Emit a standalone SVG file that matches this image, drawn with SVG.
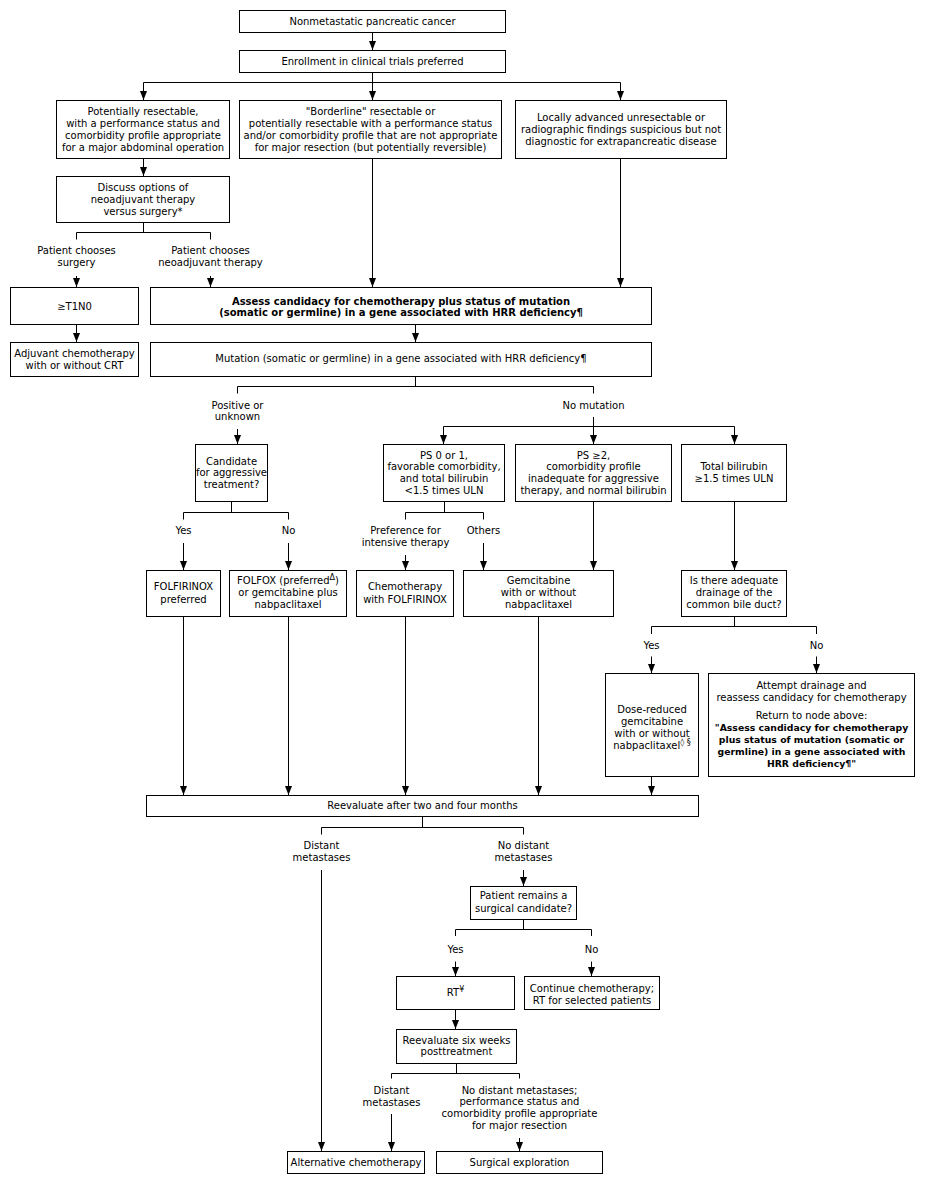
<svg xmlns="http://www.w3.org/2000/svg" width="935" height="1184" viewBox="0 0 935 1184">
<defs>
<style>
.box{fill:#fff;stroke:#000;stroke-width:1}
.c{fill:none;stroke:#000;stroke-width:1}
.a{fill:none;stroke:#000;stroke-width:1;marker-end:url(#ah)}
text{font-family:"DejaVu Sans",Verdana,sans-serif;font-size:10px;text-anchor:middle;fill:#000}
.b{font-weight:bold}
.bs{font-weight:bold;font-size:9.3px}
.sup{font-size:8px}
</style>
<marker id="ah" markerUnits="userSpaceOnUse" markerWidth="9" markerHeight="7" refX="9" refY="3.5" orient="auto">
<path d="M0,0 L9,3.5 L0,7 z" fill="#000"/>
</marker>
</defs>
<rect width="935" height="1184" fill="#fff"/>
<g id="connectors">
<path class="a" d="M372.5,32.5 V50"/>
<path class="c" d="M372.5,72.5 V82.5 M143.5,82.5 H620.5"/>
<path class="a" d="M143.5,82.5 V100"/>
<path class="a" d="M372.5,82.5 V100"/>
<path class="a" d="M620.5,82.5 V100"/>
<path class="a" d="M143.5,158.5 V176"/>
<path class="c" d="M143.5,222.5 V232.5 M76.5,239.5 V232.5 H210.5 V239.5"/>
<path class="a" d="M76.5,276 V287"/>
<path class="a" d="M210.5,276 V287"/>
<path class="a" d="M76.5,324.5 V342"/>
<path class="a" d="M372.5,158.5 V287"/>
<path class="a" d="M620.5,158.5 V287"/>
<path class="a" d="M415.5,324.5 V342"/>
<path class="c" d="M415.5,376.5 V386.5 M237.5,393.5 V386.5 H593.5 V393.5"/>
<path class="a" d="M237.5,429 V444"/>
<path class="c" d="M443.5,426.5 H734.5"/>
<path class="a" d="M593.5,417 V444"/>
<path class="a" d="M443.5,426.5 V444"/>
<path class="a" d="M734.5,426.5 V444"/>
<path class="c" d="M231.5,501.5 V512.5 M183.5,519.5 V512.5 H288.5 V519.5"/>
<path class="a" d="M183.5,543 V570"/>
<path class="a" d="M288.5,543 V570"/>
<path class="c" d="M444.5,501.5 V512.5 M405.5,519.5 V512.5 H483.5 V519.5"/>
<path class="a" d="M405.5,555 V570"/>
<path class="a" d="M483.5,543 V570"/>
<path class="a" d="M593.5,501.5 V570"/>
<path class="a" d="M734.5,501.5 V570"/>
<path class="c" d="M734.5,616.5 V626.5 M651.5,634 V626.5 H816.5 V634"/>
<path class="a" d="M651.5,656.5 V673"/>
<path class="a" d="M816.5,656.5 V673"/>
<path class="a" d="M183.5,616.5 V795"/>
<path class="a" d="M288.5,616.5 V795"/>
<path class="a" d="M405.5,616.5 V795"/>
<path class="a" d="M538.5,616.5 V795"/>
<path class="a" d="M651.5,776.5 V795"/>
<path class="c" d="M422.5,816.5 V827.5 M321.5,834.5 V827.5 H523.5 V834.5"/>
<path class="a" d="M321.5,870 V1151"/>
<path class="a" d="M523.5,870 V886"/>
<path class="c" d="M523.5,919.5 V929.5 M455.5,936 V929.5 H591.5 V936"/>
<path class="a" d="M455.5,961.5 V976"/>
<path class="a" d="M591.5,961.5 V976"/>
<path class="a" d="M455.5,1009.5 V1029"/>
<path class="c" d="M456.5,1063.5 V1073.5 M391.5,1078.5 V1073.5 H519.5 V1078.5"/>
<path class="a" d="M391.5,1114 V1151"/>
<path class="a" d="M519.5,1138 V1151"/>
</g>
<g id="labels">
<text x="76.5" y="254">Patient chooses</text>
<text x="76.5" y="266">surgery</text>
<text x="210.5" y="254">Patient chooses</text>
<text x="210.5" y="266">neoadjuvant therapy</text>
<text x="237.5" y="408.5">Positive or</text>
<text x="237.5" y="420">unknown</text>
<text x="593.5" y="408.5">No mutation</text>
<text x="183.5" y="534">Yes</text>
<text x="288.5" y="534">No</text>
<text x="405.5" y="534">Preference for</text>
<text x="405.5" y="546">intensive therapy</text>
<text x="483.5" y="534">Others</text>
<text x="651.5" y="649">Yes</text>
<text x="816.5" y="649">No</text>
<text x="321.5" y="849">Distant</text>
<text x="321.5" y="861">metastases</text>
<text x="523.5" y="849">No distant</text>
<text x="523.5" y="861">metastases</text>
<text x="455.5" y="952.5">Yes</text>
<text x="591.5" y="952.5">No</text>
<text x="391.5" y="1093.5">Distant</text>
<text x="391.5" y="1105.5">metastases</text>
<text x="519.5" y="1093.5">No distant metastases;</text>
<text x="519.5" y="1105.2">performance status and</text>
<text x="519.5" y="1116.9">comorbidity profile appropriate</text>
<text x="519.5" y="1128.6">for major resection</text>
</g>
<g id="n1"><rect class="box" x="239.5" y="10.5" width="266" height="22"/><text x="372.5" y="25">Nonmetastatic pancreatic cancer</text></g>
<g id="n2"><rect class="box" x="239.5" y="50.5" width="266" height="22"/><text x="372.5" y="65">Enrollment in clinical trials preferred</text></g>
<g id="n3"><rect class="box" x="56.5" y="100.5" width="173" height="58"/>
<text x="143" y="114.5">Potentially resectable,</text>
<text x="143" y="126.5">with a performance status and</text>
<text x="143" y="138.5">comorbidity profile appropriate</text>
<text x="143" y="150.5">for a major abdominal operation</text></g>
<g id="n4"><rect class="box" x="239.5" y="100.5" width="262" height="58"/>
<text x="370.5" y="114.5">"Borderline" resectable or</text>
<text x="370.5" y="126.5">potentially resectable with a performance status</text>
<text x="370.5" y="138.5">and/or comorbidity profile that are not appropriate</text>
<text x="370.5" y="150.5">for major resection (but potentially reversible)</text></g>
<g id="n5"><rect class="box" x="515.5" y="100.5" width="211" height="58"/>
<text x="621" y="120.5">Locally advanced unresectable or</text>
<text x="621" y="132.5">radiographic findings suspicious but not</text>
<text x="621" y="144.5">diagnostic for extrapancreatic disease</text></g>
<g id="n6"><rect class="box" x="56.5" y="176.5" width="173" height="46"/>
<text x="143" y="190.5">Discuss options of</text>
<text x="143" y="202.5">neoadjuvant therapy</text>
<text x="143" y="214.5">versus surgery*</text></g>
<g id="n7"><rect class="box" x="10.5" y="287.5" width="128" height="37"/><text x="74.5" y="309.5">≥T1N0</text></g>
<g id="n8"><rect class="box" x="10.5" y="342.5" width="128" height="34"/>
<text x="74.5" y="356.5">Adjuvant chemotherapy</text>
<text x="74.5" y="368.5">with or without CRT</text></g>
<g id="n9"><rect class="box" x="150.5" y="287.5" width="501" height="37"/>
<text class="b" x="401" y="304.5">Assess candidacy for chemotherapy plus status of mutation</text>
<text class="b" x="401" y="316">(somatic or germline) in a gene associated with HRR deficiency¶</text></g>
<g id="n10"><rect class="box" x="150.5" y="342.5" width="501" height="34"/>
<text x="401" y="362">Mutation (somatic or germline) in a gene associated with HRR deficiency¶</text></g>
<g id="n11"><rect class="box" x="195.5" y="444.5" width="72" height="57"/>
<text x="231.5" y="464.5">Candidate</text>
<text x="231.5" y="476">for aggressive</text>
<text x="231.5" y="487.5">treatment?</text></g>
<g id="n12"><rect class="box" x="383.5" y="444.5" width="121" height="57"/>
<text x="444" y="458.5">PS 0 or 1,</text>
<text x="444" y="470.3">favorable comorbidity,</text>
<text x="444" y="482.1">and total bilirubin</text>
<text x="444" y="493.9">&lt;1.5 times ULN</text></g>
<g id="n13"><rect class="box" x="515.5" y="444.5" width="156" height="57"/>
<text x="593.5" y="458.5">PS ≥2,</text>
<text x="593.5" y="470.3">comorbidity profile</text>
<text x="593.5" y="482.1">inadequate for aggressive</text>
<text x="593.5" y="493.9">therapy, and normal bilirubin</text></g>
<g id="n14"><rect class="box" x="681.5" y="444.5" width="105" height="57"/>
<text x="734" y="470">Total bilirubin</text>
<text x="734" y="482">≥1.5 times ULN</text></g>
<g id="n15"><rect class="box" x="146.5" y="570.5" width="74" height="46"/>
<text x="183.5" y="590">FOLFIRINOX</text>
<text x="183.5" y="602.5">preferred</text></g>
<g id="n16"><rect class="box" x="229.5" y="570.5" width="117" height="46"/>
<text x="288" y="583.5">FOLFOX (preferred<tspan class="sup" dy="-4">Δ</tspan><tspan dy="4">)</tspan></text>
<text x="288" y="595.8">or gemcitabine plus</text>
<text x="288" y="607.5">nabpaclitaxel</text></g>
<g id="n17"><rect class="box" x="356.5" y="570.5" width="97" height="46"/>
<text x="405" y="590">Chemotherapy</text>
<text x="405" y="602.5">with FOLFIRINOX</text></g>
<g id="n18"><rect class="box" x="463.5" y="570.5" width="150" height="46"/>
<text x="538.5" y="584">Gemcitabine</text>
<text x="538.5" y="596">with or without</text>
<text x="538.5" y="607.5">nabpaclitaxel</text></g>
<g id="n19"><rect class="box" x="681.5" y="570.5" width="105" height="46"/>
<text x="734" y="584">Is there adequate</text>
<text x="734" y="596">drainage of the</text>
<text x="734" y="607.5">common bile duct?</text></g>
<g id="n20"><rect class="box" x="605.5" y="673.5" width="93" height="103"/>
<text x="652" y="712.5">Dose-reduced</text>
<text x="652" y="724.5">gemcitabine</text>
<text x="652" y="736.5">with or without</text>
<text x="652" y="748.5">nabpaclitaxel<tspan class="sup" dy="-4">◊ §</tspan></text></g>
<g id="n21"><rect class="box" x="708.5" y="673.5" width="206" height="103"/>
<text x="811.5" y="688.5">Attempt drainage and</text>
<text x="811.5" y="700.5">reassess candidacy for chemotherapy</text>
<text x="811.5" y="718.5">Return to node above:</text>
<text class="bs" x="811.5" y="730.5">"Assess candidacy for chemotherapy</text>
<text class="bs" x="811.5" y="742.5">plus status of mutation (somatic or</text>
<text class="bs" x="811.5" y="754.5">germline) in a gene associated with</text>
<text class="bs" x="811.5" y="766.5">HRR deficiency¶"</text></g>
<g id="n22"><rect class="box" x="146.5" y="795.5" width="552" height="21"/>
<text x="422.5" y="809">Reevaluate after two and four months</text></g>
<g id="n23"><rect class="box" x="470.5" y="886.5" width="106" height="33"/>
<text x="523.5" y="899">Patient remains a</text>
<text x="523.5" y="911.5">surgical candidate?</text></g>
<g id="n24"><rect class="box" x="396.5" y="976.5" width="118" height="33"/>
<text x="455.5" y="996">RT<tspan class="sup" dy="-4">¥</tspan></text></g>
<g id="n25"><rect class="box" x="524.5" y="976.5" width="135" height="33"/>
<text x="592" y="991.5">Continue chemotherapy;</text>
<text x="592" y="1003.5">RT for selected patients</text></g>
<g id="n26"><rect class="box" x="396.5" y="1029.5" width="120" height="34"/>
<text x="456.5" y="1043.5">Reevaluate six weeks</text>
<text x="456.5" y="1055">posttreatment</text></g>
<g id="n27"><rect class="box" x="287.5" y="1151.5" width="137" height="22"/>
<text x="356" y="1165.5">Alternative chemotherapy</text></g>
<g id="n28"><rect class="box" x="436.5" y="1151.5" width="166" height="22"/>
<text x="519.5" y="1165.5">Surgical exploration</text></g>
</svg>
